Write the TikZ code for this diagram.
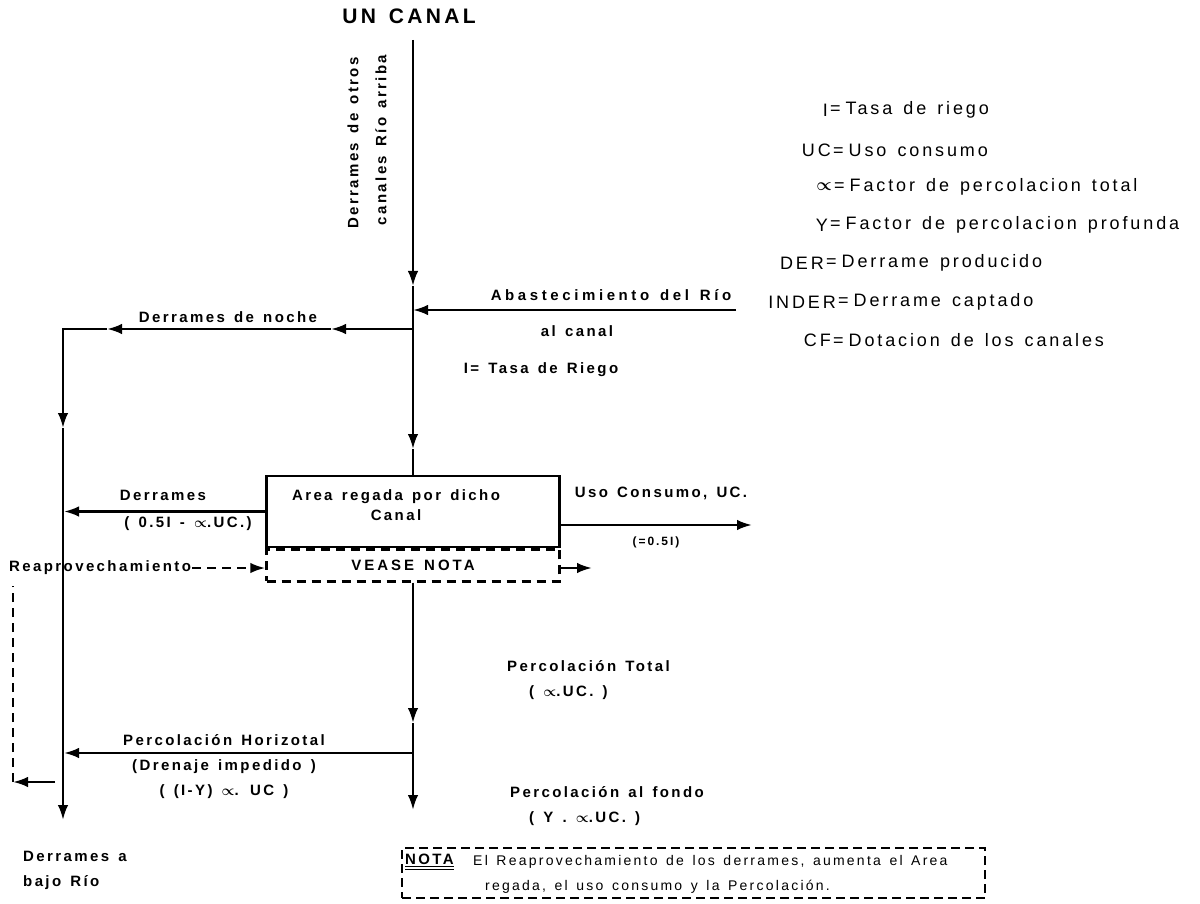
\documentclass[tikz,border=0pt]{standalone}
\usepackage{amsmath}
\usepackage{fontspec}
\setmainfont{Liberation Sans}[LetterSpace=16,WordSpace=1.4]
\usetikzlibrary{positioning,arrows.meta}

\newcommand{\alf}{\ensuremath{\boldsymbol{\propto}}}

\begin{document}
\begin{tikzpicture}[x=1pt,y=-1pt,>={Latex[length=15pt,width=10.5pt]},
  flow/.style={line width=2.4pt},
  ret/.style={flow,dash pattern=on 9pt off 6pt},
  box/.style={draw,line width=2.4pt,minimum width=293pt,minimum height=71pt,inner sep=0pt},
  lbl/.style={font=\bfseries\fontsize{15}{25}\selectfont,inner sep=1pt},
  lgd/.style={font=\fontsize{18}{22}\selectfont,inner sep=0pt}]
\useasboundingbox (0,0) rectangle (1200,904);

% canal principal
\node[lbl,font=\bfseries\fontsize{21}{26}\selectfont] (titulo) at (409,16) {UN CANAL};
\coordinate (top) at (413,40);
\coordinate (a1) at (413,286);
\coordinate (jab) at (413,310);
\coordinate (jno) at (413,329);
\coordinate (a2) at (413,449);
\node[box] (area) at (413,511.5) {};
\node[box,dash pattern=on 9pt off 6pt,minimum height=32pt,
  font=\bfseries\fontsize{15}{18}\selectfont\addfontfeature{LetterSpace=20},below=0pt of area] (vease) {VEASE NOTA};
\node[lbl,align=center,font=\bfseries\fontsize{15}{20}\selectfont] (areatxt) at (396,505) {Area regada por dicho\\Canal};

\draw[flow,->] (top) -- (a1);
\draw[flow,->] (a1) -- (a2);
\draw[flow] (a2) -- (area.north);

% abastecimiento
\coordinate (abin) at (736,310);
\draw[flow,->] (abin) -- (jab);
\node[lbl,font=\bfseries\fontsize{15}{20}\selectfont\addfontfeature{LetterSpace=24}] (abas) at (611,295) {Abastecimiento del Río};
\node[lbl] (alcanal) at (577,331) {al canal};
\node[lbl] (tasa) at (541,370) {I= Tasa de Riego};
\node[lbl,rotate=90] (otros) at (353,143) {Derrames de otros};
\node[lbl,rotate=90] (arriba) at (381,140) {canales Río arriba};

% derrames de noche y rio abajo
\coordinate (n1) at (331,329);
\coordinate (n2) at (107,329);
\coordinate (ncorner) at (63,329);
\coordinate (l1) at (63,428);
\coordinate (lder) at (64,511.5);
\coordinate (lper) at (64,753);
\coordinate (lbot) at (63,820);
\draw[flow,->] (jno) -- (n1);
\draw[flow,->] (n1) -- (n2);
\draw[flow,->] (n2) -- (ncorner) -- (l1);
\draw[flow,->] (l1) -- (lbot);
\node[lbl] (noche) at (228,317) {Derrames de noche};
\node[lbl,anchor=north west,align=left] (bajo) at (22,850) {Derrames a\\bajo Río};

% derrames del area
\draw[flow,->] (area.west) -- (lder);
\node[lbl] (der) at (163,495) {Derrames};
\node[lbl] (derf) at (188,524) {( 0.5I - \alf.UC.)};

% uso consumo
\coordinate (ucend) at (752,525);
\draw[flow,->] (area.east |- ucend) -- (ucend);
\node[lbl] (uc) at (661,493) {Uso Consumo, UC.};
\node[lbl,font=\bfseries\fontsize{12}{14}\selectfont] (ucf) at (656,542) {(=0.5I)};

% reaprovechamiento
\node[lbl,anchor=west] (reap) at (8,568) {Reaprovechamiento};
\coordinate (reout) at (592,568);
\coordinate (rc) at (13,782);
\coordinate (rb) at (55,782);
\coordinate (rtop) at (13,586);
\draw[ret,->] (reap.east) -- (reap.east -| vease.west);
\draw[flow,->] (reap.east -| vease.east) -- (reout);
\draw[flow,->] (rb) -- (rc);
\draw[ret] (rc) -- (rtop);

% percolacion
\coordinate (b1) at (413,723);
\coordinate (jho) at (413,753);
\coordinate (b2) at (413,810);
\draw[flow,->] (vease.south) -- (b1);
\draw[flow,->] (b1) -- (b2);
\draw[flow,->] (jho) -- (lper);
\node[lbl,align=center] (phor) at (224,767) {Percolación Horizotal\\(Drenaje impedido )\\( (I-Y) \alf. UC )};
\node[lbl,anchor=west,align=left] (ptot) at (506,680) {Percolación Total\\\hspace{22pt}( \alf.UC. )};
\node[lbl,anchor=west,align=left] (pfon) at (509,806) {Percolación al fondo\\\hspace{19pt}( Y . \alf.UC. )};

% nota
\node[draw,line width=2pt,dash pattern=on 9pt off 5pt,minimum width=583pt,
  minimum height=50pt] (nota) at (693.5,873) {};
\node[lbl,anchor=west] (notatag) at (404,862) {\underline{\underline{NOTA}}};
\node[lbl,font=\fontsize{14}{25}\selectfont,anchor=west,align=left] (notatxt) at (472,874)
  {El Reaprovechamiento de los derrames, aumenta el Area\\\hspace{12pt}regada, el uso consumo y la Percolación.};

% leyenda
\foreach \k/\v/\eq/\yy [count=\i] in {I/Tasa de riego/835/110,UC/Uso consumo/838/150,
  \alf/Factor de percolacion total/839/187,Y/Factor de percolacion profunda/835/225,
  DER/Derrame producido/831/263,INDER/Derrame captado/843/302,
  CF/Dotacion de los canales/838/340}{
  \node[lgd,anchor=east] (k\i) at (\eq-7,\yy) {\k};
  \node[lgd,anchor=west] (v\i) at (\eq-5,\yy) {=\hspace{5pt}\v};
}
\end{tikzpicture}
\end{document}
